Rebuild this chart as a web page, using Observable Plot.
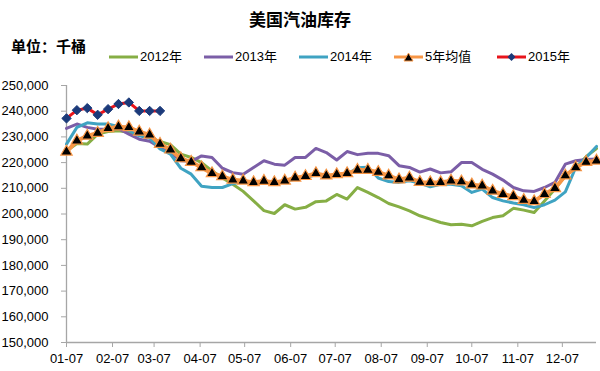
<!DOCTYPE html>
<html><head><meta charset="utf-8">
<script src="https://cdn.jsdelivr.net/npm/d3@7"></script>
<script src="https://cdn.jsdelivr.net/npm/@observablehq/plot@0.6"></script>
<style>
body{margin:0;background:#fff;}
#wrap{position:relative;width:600px;height:371px;overflow:hidden;font-family:"Liberation Sans","Noto Sans CJK SC",sans-serif;color:#000;}
#title{position:absolute;left:0;width:600px;top:7px;text-align:center;font-weight:bold;font-size:17px;font-family:"Noto Sans CJK SC",sans-serif;line-height:24px;}
#unit{position:absolute;left:11px;top:35px;font-weight:bold;font-size:15px;font-family:"Noto Sans CJK SC",sans-serif;line-height:22px;}
.lg{position:absolute;top:48px;height:18px;font-size:13px;line-height:18px;white-space:nowrap;}
.lg svg{position:absolute;left:0;top:0;}
.lg span{position:absolute;top:0;}
#chart{position:absolute;left:0;top:0;}
</style></head>
<body>
<div id="wrap">
<div id="chart"></div>
<div id="title">美国汽油库存</div>
<div id="unit">单位：千桶</div>
<div id="legend"></div>
</div>
<script>
const seriesNames = ["2012年", "2013年", "2014年", "5年均值", "2015年"];
const seriesColors = ["#86AE45", "#7B5EA7", "#3FA3C2", "#F79646", "#E8141B"];

const y2012 = [224500,227400,227200,231100,232100,232400,231800,230800,229800,228200,227000,223300,222000,220000,216800,214000,211600,208800,205100,201300,200200,203600,201900,202600,204800,205100,207600,205800,210300,208400,206400,204100,202800,201200,199300,198000,196700,195800,196000,195400,197100,198600,199300,202200,201500,200600,205100,209700,214900,218100,222300,225500];
const y2013 = [233300,235000,233700,233000,233000,233300,231100,229100,228300,225900,223900,220700,220500,222600,222000,217800,216100,215500,218100,220700,219400,219000,222000,222000,225500,223900,221000,224300,223100,223600,223600,222700,218800,218100,216300,217500,216000,216400,220000,220000,217400,215500,213200,210300,209000,208800,210300,212300,219400,220700,221200,221400];
const y2014 = [227200,233700,235500,235000,235000,234000,232600,230400,229600,225300,223300,217800,215500,210800,210300,210300,211800,212700,212400,212500,211900,212500,213600,214200,215300,214500,214900,215400,218000,218200,214000,212600,212300,212900,212000,210600,211600,211600,211000,208400,209700,206400,205100,204300,203600,202500,203600,205400,208600,218100,222000,226300];
const y5avg = [224200,228500,230400,231500,233300,234000,233700,232000,230800,227200,225000,221600,220200,218100,215800,214600,213300,212900,212300,212800,212300,212900,214100,214700,215800,214900,215400,215800,217100,217100,216300,214900,213400,214100,212400,212300,212300,212900,212600,211400,211000,209000,207700,206900,205400,204900,207700,210000,214900,218100,220200,220700];
const y2015 = [237200,240400,241200,238600,240800,242800,243400,240100,240100,240100];

const yTicks = [150000,160000,170000,180000,190000,200000,210000,220000,230000,240000,250000];
const xTickLabels = ["01-07","02-07","03-07","04-07","05-07","06-07","07-07","08-07","09-07","10-07","11-07","12-07"];

const weekDate = i => new Date(Date.UTC(2015, 0, 7 + 7 * i));
const xTicks = xTickLabels.map(s => new Date(Date.UTC(2015, +s.slice(0,2) - 1, +s.slice(3))));
const toRows = arr => arr.map((v, i) => ({date: weekDate(i), value: v}));

const axisGray = "#A6A6A6";
const font = "Liberation Sans, Noto Sans CJK SC, sans-serif";

const chart = Plot.plot({
  width: 600, height: 371,
  marginLeft: 66, marginRight: 4, marginTop: 85, marginBottom: 29,
  style: {fontFamily: font, fontSize: "13px", color: "#000", background: "transparent"},
  x: {type: "utc", domain: [weekDate(0), weekDate(51)]},
  y: {domain: [150000, 250000]},
  marks: [
    Plot.ruleY([150000], {stroke: axisGray, strokeWidth: 1.3}),
    Plot.ruleX([weekDate(0)], {stroke: axisGray, strokeWidth: 1.3}),
    Plot.axisY({ticks: yTicks, tickFormat: d3.format(","), tickSize: 5, tickPadding: 13, stroke: axisGray, fill: "#000", fontSize: 13, label: null}),
    Plot.axisX({ticks: xTicks, tickFormat: (d, i) => xTickLabels[i], tickSize: 5, tickPadding: 6, stroke: axisGray, fill: "#000", fontSize: 13, label: null}),
    Plot.line(toRows(y2012), {x: "date", y: "value", stroke: seriesColors[0], strokeWidth: 3}),
    Plot.line(toRows(y2013), {x: "date", y: "value", stroke: seriesColors[1], strokeWidth: 3}),
    Plot.line(toRows(y2014), {x: "date", y: "value", stroke: seriesColors[2], strokeWidth: 3}),
    Plot.line(toRows(y5avg), {x: "date", y: "value", stroke: seriesColors[3], strokeWidth: 4}),
    Plot.dot(toRows(y5avg), {x: "date", y: "value", symbol: "triangle", r: 4.2, fill: "#000", stroke: seriesColors[3], strokeWidth: 1.2}),
    Plot.line(toRows(y2015), {x: "date", y: "value", stroke: seriesColors[4], strokeWidth: 3}),
    Plot.dot(toRows(y2015), {x: "date", y: "value", symbol: "diamond2", r: 4.2, fill: "#1B3A7A", stroke: "#1B3A7A", strokeWidth: 1})
  ]
});
document.getElementById("chart").appendChild(chart);

// legend
const legendX = [109, 204, 299, 394, 497];
const lg = document.getElementById("legend");
seriesNames.forEach((name, i) => {
  const d = document.createElement("div");
  d.className = "lg";
  d.style.left = legendX[i] + "px";
  let marker = "";
  if (i === 3) marker = '<path d="M14.5,5 L19,13 L10,13 Z" fill="#000" stroke="#F79646" stroke-width="1"/>';
  if (i === 4) marker = '<path d="M14.5,5 L18.5,9 L14.5,13 L10.5,9 Z" fill="#1B3A7A"/>';
  d.innerHTML = '<svg width="30" height="18"><line x1="0" y1="9" x2="29" y2="9" stroke="' + seriesColors[i] + '" stroke-width="3"/>' + marker + '</svg><span style="left:31px">' + name + '</span>';
  lg.appendChild(d);
});
</script>
</body></html>
